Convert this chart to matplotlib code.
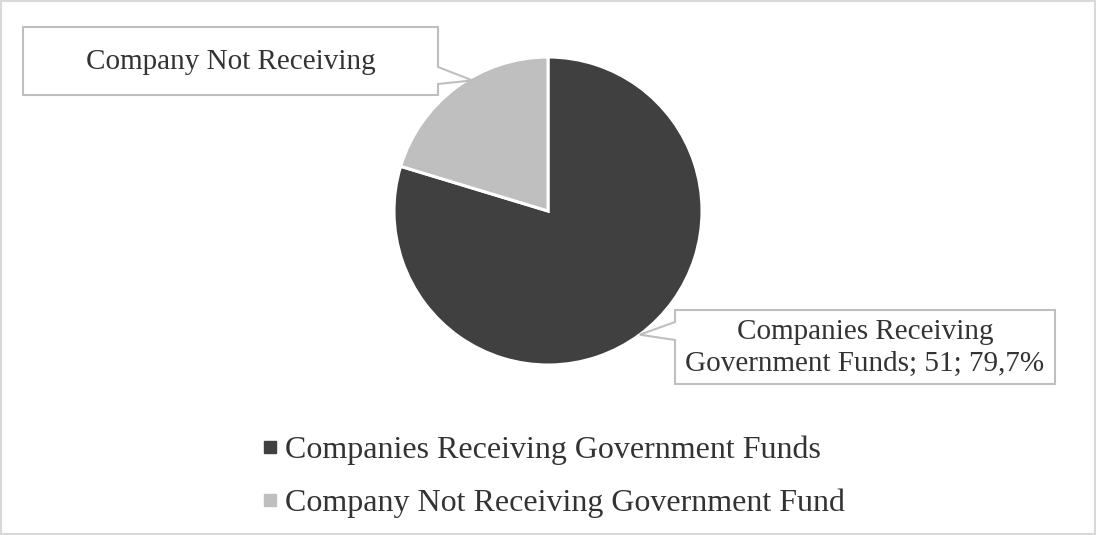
import matplotlib.pyplot as plt
import numpy as np
from matplotlib.patches import Polygon, Rectangle
from matplotlib.lines import Line2D

plt.rcParams['font.family'] = ['Liberation Serif', 'DejaVu Serif']

categories = ['Companies Receiving Government Funds', 'Company Not Receiving Government Fund']
counts = [51, 13]
shares = [79.7, 20.3]
colors = ['#404040', '#bfbfbf']
text_color = '#333333'
edge_gray = '#bfbfbf'

W, H = 1096, 535
fig = plt.figure(figsize=(W / 100, H / 100), dpi=100)
ax = fig.add_axes([0, 0, 1, 1])
ax.set_xlim(0, W)
ax.set_ylim(0, H)
ax.set_aspect('equal')
ax.axis('off')

# outer chart frame
fig.patches.append(Rectangle((0.001, 0.001), 0.998, 0.997, transform=fig.transFigure,
                             fill=False, edgecolor='#d9d9d9', linewidth=1.5))

cx, cy, r = 548, H - 211, 154
wedges, _ = ax.pie(counts, colors=colors, startangle=90, counterclock=False,
                   radius=r, center=(cx, cy),
                   wedgeprops=dict(edgecolor='white', linewidth=2.2))
ax.set_xlim(0, W)
ax.set_ylim(0, H)


def callout(box, tip, base, side, lines):
    x0, y0, x1, y1 = box
    b0, b1 = base
    if side == 'right':
        pts = [(x0, y0), (x1, y0), (x1, b0), tip, (x1, b1), (x1, y1), (x0, y1)]
    else:
        pts = [(x0, y0), (x1, y0), (x1, y1), (x0, y1), (x0, b1), tip, (x0, b0)]
    ax.add_patch(Polygon(pts, closed=True, facecolor='white', edgecolor=edge_gray,
                         linewidth=1.5, zorder=3))
    ax.text((x0 + x1) / 2, (y0 + y1) / 2 - 1, lines, ha='center', va='center',
            fontsize=21, color=text_color, linespacing=1.28, zorder=4)


def tip_at(w, angle_shift=0.0, rr=1.0):
    a = np.deg2rad((w.theta1 + w.theta2) / 2 + angle_shift)
    return (cx + r * rr * np.cos(a), cy + r * rr * np.sin(a))


# label for the smaller slice (upper left)
callout((23, H - 27, 438, H - 95), tip_at(wedges[1], -6.5, 0.98),
        (H - 67, H - 84), 'right', 'Company Not Receiving')

# label for the larger slice (lower right)
big_label = 'Companies Receiving\nGovernment Funds; {}; {}%'.format(
    counts[0], str(shares[0]).replace('.', ','))
callout((675, H - 310, 1055, H - 384), tip_at(wedges[0], 0, 1.0),
        (H - 322, H - 340), 'left', big_label)

handles = [Line2D([], [], marker='s', linestyle='none', markersize=8,
                  markerfacecolor=c, markeredgecolor=c) for c in colors]
leg = fig.legend(handles, categories, loc='center', bbox_to_anchor=(0.504, 0.109),
                 frameon=False, fontsize=23, labelspacing=0.72,
                 handlelength=0.6, handletextpad=0.16, labelcolor=text_color)

fig.savefig('out.png', dpi=100)
